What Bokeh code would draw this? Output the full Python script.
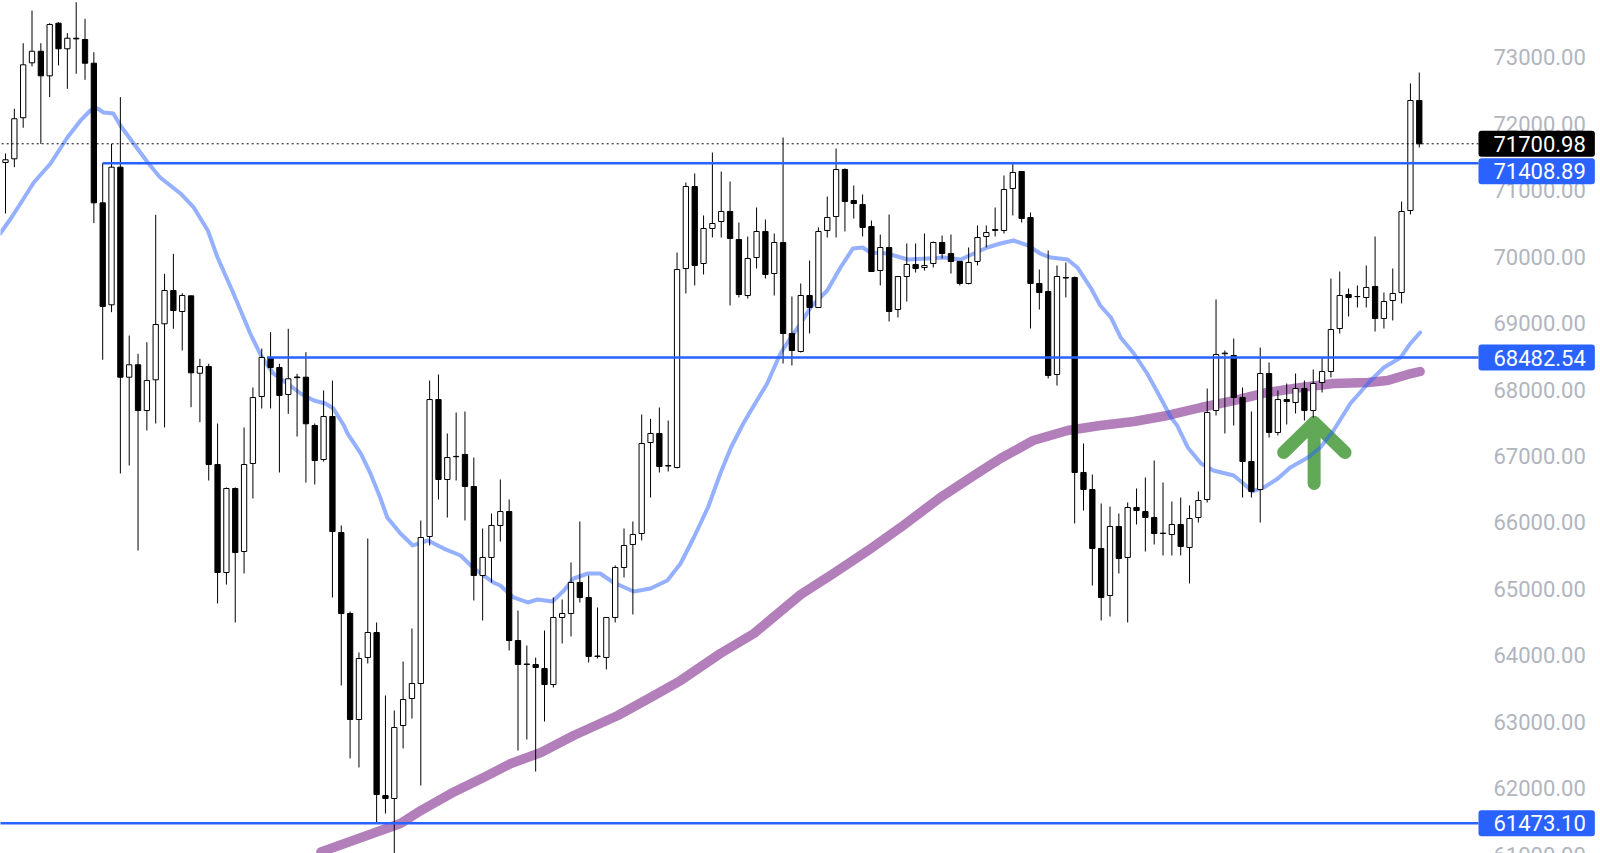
from bokeh.plotting import figure
from bokeh.models import Range1d, Label, ColumnDataSource
from bokeh.embed import file_html
from bokeh.resources import INLINE

# ---------------- data ----------------
open_ = [71419, 71475, 72093, 72920, 73094, 72724, 73516, 73131, 73290, 73271,
         72914, 70812, 69277, 71349, 68187, 68374, 67686, 68148, 68991, 69492,
         69176, 69412, 68247, 68348, 66873, 65247, 66512, 65563, 66888, 67897,
         68484, 68333, 67927, 68190, 68187, 67460, 66948, 67596, 65849, 64630,
         63034, 63968, 64344, 61890, 61845, 62944, 63350, 63576, 65789, 67851,
         66647, 66990, 67024, 66542, 65202, 65473, 65955, 66165, 64223, 63870,
         63862, 63802, 63561, 64570, 64630, 65097, 64871, 63990, 63968, 64570,
         65322, 65669, 65834, 67204, 67340, 66850, 66828, 69823, 71058, 69899,
         70426, 70531, 70682, 70260, 69417, 69989, 70381, 69748, 70215, 68845,
         68574, 69417, 69236, 70396, 70606, 71314, 70847, 70787, 70456, 69793,
         70140, 69206, 69703, 69884, 69838, 69899, 70215, 70049, 69929, 69598,
         69929, 70305, 70396, 70396, 71028, 71284, 70591, 69598, 69477, 68228,
         69688, 69688, 66753, 66497, 65608, 64901, 65940, 65473, 66226, 66165,
         66075, 65834, 65819, 65970, 65624, 66075, 66346, 67686, 68540, 68514,
         67881, 66918, 66497, 68243, 67355, 67851, 67806, 68017, 67686, 68107,
         68273, 68920, 69432, 69400, 69387, 69553, 69071, 69342, 69462, 70697,
         72353]
high = [71555, 72228, 73215, 73707, 73215, 73516, 73531, 73366, 73832, 73583,
        73080, 71409, 71700, 72403, 68815, 68539, 68714, 70632, 69744, 70045,
        69452, 69412, 68464, 68389, 67490, 66527, 66527, 67430, 68032, 68619,
        68865, 68389, 68916, 68238, 68564, 67490, 67987, 68137, 65955, 64660,
        64043, 65759, 64495, 63396, 63170, 63907, 64404, 66030, 68137, 68228,
        67340, 67656, 67671, 66978, 65910, 66135, 66647, 66346, 64675, 64148,
        63967, 64374, 64871, 64841, 65398, 66015, 65202, 64720, 64570, 65353,
        65910, 66015, 67626, 67560, 67731, 67535, 70064, 71118, 71254, 70622,
        71570, 71284, 71133, 70516, 70305, 70742, 70561, 70350, 71796, 69402,
        69598, 69944, 70441, 70907, 71630, 71329, 71073, 70938, 70546, 70335,
        70636, 69703, 70200, 70200, 70350, 70230, 70320, 70335, 69929, 70140,
        70471, 70471, 70742, 71224, 71404, 71284, 70667, 69808, 70094, 69869,
        69914, 69703, 67189, 66722, 66286, 66240, 66135, 66301, 66512, 66677,
        66933, 66602, 66316, 66376, 66256, 66467, 68017, 69357, 68589, 68770,
        68032, 67671, 68634, 68409, 67987, 68092, 68243, 68137, 68303, 68484,
        69673, 69778, 69522, 69568, 69869, 70305, 69462, 69824, 70832, 72609,
        72774]
low = [70652, 71349, 71942, 72865, 71700, 72403, 72880, 72529, 72755, 72664,
       70506, 68450, 69166, 66738, 66858, 65578, 67385, 67490, 67430, 68916,
       68589, 67736, 67510, 66632, 64781, 65066, 64495, 65232, 66361, 67716,
       67716, 66753, 67636, 67294, 66602, 66572, 66918, 64871, 63546, 62448,
       62312, 63877, 61484, 61619, 60950, 62598, 63049, 62040, 65654, 66346,
       66075, 66632, 66030, 64826, 64525, 65097, 65714, 64073, 62568, 62733,
       62251, 63004, 63516, 64178, 64284, 64796, 63892, 63952, 63787, 64495,
       65172, 64615, 65729, 66376, 66753, 66768, 66813, 69447, 69568, 69733,
       70290, 70290, 69267, 69387, 69372, 69823, 69673, 69417, 68393, 68363,
       68559, 68845, 69236, 70290, 70290, 70381, 70576, 70305, 69778, 69568,
       69026, 69086, 69327, 69763, 69793, 69838, 69974, 69748, 69568, 69583,
       69869, 70140, 70305, 70350, 70622, 70516, 68920, 69206, 68168, 68062,
       69387, 65985, 66180, 65051, 64525, 64585, 65232, 64495, 65970, 65563,
       65669, 65503, 65503, 65503, 65082, 66000, 66301, 67611, 67340, 67460,
       66376, 66376, 66000, 67279, 67310, 67475, 67641, 67535, 67580, 67957,
       68183, 68845, 69101, 69236, 69236, 68875, 68920, 69041, 69297, 70636,
       71645]
close = [71460, 72078, 72890, 73094, 72724, 73497, 73131, 73290, 73280, 72914,
         70812, 69252, 71349, 68187, 68374, 67686, 68137, 68981, 69492, 69191,
         69417, 68253, 68348, 66873, 65247, 66512, 65548, 66873, 67881, 68484,
         68333, 67912, 68163, 68180, 67486, 66933, 67596, 65864, 64630, 63034,
         63952, 64344, 61905, 61845, 62914, 63335, 63576, 65774, 67851, 66647,
         66978, 66995, 66542, 65202, 65473, 65955, 66165, 64223, 63862, 63862,
         63817, 63561, 64570, 64630, 65097, 64871, 63983, 63983, 64570, 65322,
         65654, 65819, 67189, 67340, 66843, 66858, 69808, 71058, 69869, 70426,
         70501, 70682, 70275, 69432, 69974, 70381, 69733, 70215, 68845, 68589,
         69417, 69236, 70381, 70591, 71314, 70832, 70802, 70441, 69778, 70140,
         69176, 69703, 69884, 69823, 69868, 70215, 70049, 69929, 69598, 69914,
         70290, 70365, 70411, 71013, 71269, 70576, 69598, 69462, 68213, 69703,
         69680, 66753, 66497, 65608, 64871, 65940, 65458, 66226, 66180, 66075,
         65834, 65840, 65970, 65639, 66060, 66331, 67656, 68529, 68550, 67881,
         66918, 66467, 68243, 67355, 67851, 67821, 68017, 67686, 68092, 68273,
         68905, 69417, 69387, 69402, 69538, 69071, 69327, 69447, 70682, 72353,
         71700.98]

# fast moving average (light blue): bar position, value
ma_fast_x = [-0.6, 0.6, 1.7, 3.2, 5.1, 7.0, 8.5, 9.6, 10.4, 11.1, 12.2, 13.0, 14.5, 16.1,
             17.5, 19.8, 21.3, 22.9, 24.0, 25.8, 27.7, 28.9, 30.3, 31.9, 33.4, 34.9, 36.2,
             37.1, 38.3, 38.7, 40.2, 41.3, 42.4, 43.2, 44.7, 46.1, 47.8, 49.6, 51.5, 52.9,
             53.8, 55.2, 56.0, 57.5, 59.1, 60.2, 61.9, 63.2, 64.3, 65.9, 67.3, 68.8, 71.1,
             73.0, 74.9, 76.4, 77.9, 79.5, 80.9, 82.1, 83.5, 84.7, 86.2, 87.7, 88.8, 90.0,
             91.1, 93.0, 94.5, 95.9, 97.0, 97.9, 99.8, 102.1, 104.4, 106.2, 108.1, 109.6,
             111.1, 112.6, 114.1, 115.7, 117.1, 118.3, 120.2, 121.3, 122.8, 123.9, 125.1,
             126.2, 127.7, 129.2, 130.7, 131.9, 132.6, 133.8, 135.3, 136.7, 139.0, 140.1,
             141.1, 142.4, 144.0, 145.4, 147.4, 148.8, 150.3, 152.2, 154.5, 156.0, 157.9,
             159.0, 160.1]
ma_fast = [70350, 70576, 70802, 71118, 71404, 71796, 72052, 72202, 72232, 72172, 72157,
           71976, 71705, 71419, 71193, 70953, 70742, 70396, 69989, 69447, 68845, 68514,
           68243, 68092, 67942, 67836, 67791, 67716, 67460, 67340, 67039, 66738, 66376,
           66075, 65834, 65654, 65729, 65608, 65503, 65322, 65232, 65097, 65051, 64871,
           64796, 64841, 64811, 64976, 65157, 65232, 65232, 65097, 64961, 65006, 65127,
           65383, 65774, 66226, 66738, 67129, 67490, 67761, 68092, 68544, 68770, 68996,
           69237, 69492, 69839, 70125, 70140, 70064, 70049, 69959, 69974, 69989, 69959,
           70049, 70140, 70200, 70245, 70170, 70049, 69989, 69959, 69839, 69537, 69267,
           69086, 68785, 68544, 68243, 67881, 67581, 67460, 67129, 66888, 66783, 66707,
           66587, 66467, 66527, 66662, 66828, 66978, 67129, 67385, 67791, 68137, 68333,
           68484, 68695, 68860]

# slow moving average (purple)
ma_slow_x = [35.7, 44.7, 47.0, 50.4, 54.1, 57.2, 60.6, 64.3, 69.3, 73.0, 76.4, 80.9,
             84.7, 90.0, 93.7, 97.6, 101.3, 105.8, 109.6, 112.6, 116.3, 120.2, 123.9,
             127.7, 131.5, 135.3, 139.0, 142.8, 146.6, 150.3, 154.2, 156.4, 158.7, 160.1]
ma_slow = [61040, 61469, 61664, 61920, 62161, 62372, 62537, 62793, 63094, 63365,
           63621, 64028, 64329, 64916, 65232, 65578, 65925, 66376, 66707, 66963, 67234,
           67385, 67460, 67521, 67611, 67731, 67836, 67957, 68032, 68092, 68107, 68137,
           68228, 68273]

# horizontal levels and the bar where each one starts
levels = [71408.89, 68482.54, 61473.10]
level_start = [11, 29.6, -2]
last_price = 71700.98
tick_values = [61000, 62000, 63000, 64000, 65000, 66000, 67000, 68000, 69000,
               70000, 71000, 72000, 73000]

# green arrow annotation (bar position, price)
arrow_head_x = [144.65, 148.1, 151.6]
arrow_head_y = [67054, 67505, 67054]
arrow_shaft_x = [148.1, 148.1]
arrow_shaft_y = [67505, 66587]

# ---------------- layout ----------------
W, H = 1600, 853
X0, X1 = -0.566, 180.51
Y0, Y1 = 61017, 73858
BOX_LEFT_PX = 1478
LABEL_LEFT_PX = 1493


def px_to_x(px):
    return X0 + px * (X1 - X0) / W


p = figure(width=W, height=H, output_backend="svg", toolbar_location=None,
           x_range=Range1d(X0, X1), y_range=Range1d(Y0, Y1),
           x_axis_type=None, y_axis_type=None, min_border=0)
p.outline_line_color = None
p.background_fill_color = "white"
p.border_fill_color = "white"
p.grid.visible = False

# moving averages and the arrow
p.line(ma_slow_x, ma_slow, line_color="#7e2a8e", line_alpha=0.6, line_width=9.5,
       line_cap="round", line_join="round")
p.line(arrow_head_x, arrow_head_y, line_color="#62a957", line_width=13,
       line_cap="round", line_join="round")
p.line(arrow_shaft_x, arrow_shaft_y, line_color="#62a957", line_width=13,
       line_cap="round")
p.line(ma_fast_x, ma_fast, line_color="#2962ff", line_alpha=0.5, line_width=4,
       line_cap="round", line_join="round")

# candles
n = len(close)
idx = list(range(n))
src = ColumnDataSource(dict(
    x=idx, high=high, low=low,
    top=[max(o, c) for o, c in zip(open_, close)],
    bottom=[min(o, c) for o, c in zip(open_, close)],
    fill=["white" if c >= o else "black" for o, c in zip(open_, close)],
))
p.segment(x0="x", y0="high", x1="x", y1="low", source=src, line_color="black", line_width=1)
p.vbar(x="x", width=0.6, top="top", bottom="bottom", fill_color="fill",
       line_color="black", line_width=1, source=src)

# horizontal levels
x_end = px_to_x(BOX_LEFT_PX)
for lv, st in zip(levels, level_start):
    p.line([st, x_end], [lv, lv], line_color="#2962ff", line_width=2.5)
p.line([px_to_x(0) - 1, x_end], [last_price, last_price], line_color="black",
       line_width=1, line_dash="2 3")

# price scale labels
for v in tick_values:
    p.add_layout(Label(x=LABEL_LEFT_PX, y=v, x_units="screen", y_units="data",
                       text=f"{v:.2f}", text_font="Roboto", text_font_size="22px",
                       text_color="#b2b5be", text_baseline="middle", text_align="left"))

boxes = [(last_price, "#000000", 0), (levels[0], "#2962ff", -8),
         (levels[1], "#2962ff", 0), (levels[2], "#2962ff", 0)]
for v, col, off in boxes:
    p.add_layout(Label(x=BOX_LEFT_PX, y=v, x_units="screen", y_units="data",
                       y_offset=off, text=f"{v:.2f}", text_font="Roboto",
                       text_font_size="22px", text_color="white",
                       text_baseline="middle", text_align="left",
                       background_fill_color=col, border_radius=3,
                       padding=dict(left=15, right=9, top=5, bottom=5)))

open("out.html", "w").write(file_html(p, INLINE))
